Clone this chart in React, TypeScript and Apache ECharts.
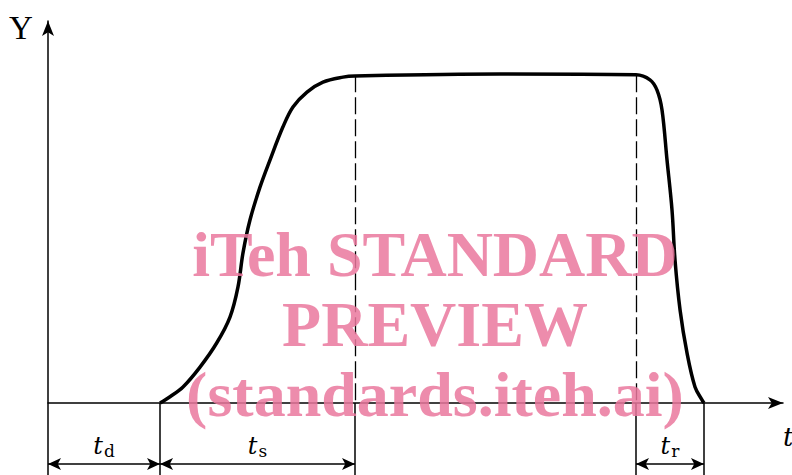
import React, { useEffect, useRef } from "react";
import * as echarts from "echarts";

// Response curve: [time, Y] in chart units (x 0..100, y -18.85..100)
const curveX = [15.24, 16.6, 18.37, 20.68, 22.95, 24.76, 25.85, 26.53, 27.48, 28.84, 30.2, 31.97, 33.33, 35.24, 37.41, 40.14, 41.77, 61.5, 80.0, 81.9, 82.86, 83.54, 84.22, 84.9, 85.31, 86.0, 86.94, 88.03, 88.98, 89.25];
const curveY = [0, 1.65, 4.2, 9.4, 15.7, 22.5, 30.4, 39.3, 47.9, 56.5, 63.6, 72.3, 77.5, 81.4, 84.0, 85.3, 85.6, 86.1, 85.9, 84.6, 81.9, 76.7, 63.6, 50.5, 37.4, 24.3, 13.1, 4.2, 0.8, 0];

// Time marks
const tStart = 0;
const tDelayEnd = 15.24;
const tSettle = 41.77;
const tRelease = 80.0;
const tEnd = 89.25;
const plateauY = 85.8;
const dimY = -16.0;
const yMin = -18.85;
const yMax = 100;
const xMax = 100;

const dimLabels = [
  { from: tStart, to: tDelayEnd, sub: "d" },
  { from: tDelayEnd, to: tSettle, sub: "s" },
  { from: tRelease, to: tEnd, sub: "r" },
];

const watermarkLines = ["iTeh STANDARD", "PREVIEW", "(standards.iteh.ai)"];

export default function App() {
  const ref = useRef<HTMLDivElement>(null);
  useEffect(() => {
    if (!ref.current) return;
    const chart = echarts.init(ref.current, null, { renderer: "svg" });
    const data = curveX.map((x, i) => [x, curveY[i]]);
    const dashed = { type: [17, 5] as any, color: "#000", width: 1.3 };
    const solid = { type: "solid", color: "#000", width: 1.5 };
    const vLines: any[] = [];
    [tSettle, tRelease].forEach((x) => {
      vLines.push([
        { coord: [x, plateauY], lineStyle: dashed, symbol: "none" },
        { coord: [x, 0], symbol: "none" },
      ]);
    });
    [tDelayEnd, tSettle, tRelease, tEnd].forEach((x) => {
      vLines.push([
        { coord: [x, 0], lineStyle: solid, symbol: "none" },
        { coord: [x, yMin], symbol: "none" },
      ]);
    });
    const dims = dimLabels.map((d) => [
      {
        coord: [d.from, dimY],
        lineStyle: { type: "solid", color: "#000", width: 1.5 },
        label: {
          show: true,
          position: "insideMiddleTop",
          distance: 5,
          formatter: "{t|t}{s|" + d.sub + "}",
          rich: {
            t: { fontFamily: "DejaVu Serif", fontStyle: "italic", fontSize: 24, color: "#000" },
            s: { fontFamily: "DejaVu Serif", fontSize: 17, color: "#000", padding: [10, 0, 0, 1] },
          },
        },
      },
      { coord: [d.to, dimY] },
    ]);
    chart.setOption({
      animation: false,
      grid: { left: 48, right: 9, top: 21, bottom: 0 },
      xAxis: {
        type: "value",
        min: 0,
        max: xMax,
        axisLine: {
          show: true,
          onZero: true,
          symbol: ["none", "arrow"],
          symbolSize: [9, 15],
          lineStyle: { color: "#000", width: 1.5 },
        },
        axisTick: { show: false },
        axisLabel: { show: false },
        splitLine: { show: false },
      },
      yAxis: {
        type: "value",
        min: yMin,
        max: yMax,
        axisLine: {
          show: true,
          onZero: false,
          symbol: ["none", "arrow"],
          symbolSize: [9, 15],
          lineStyle: { color: "#000", width: 1.5 },
        },
        axisTick: { show: false },
        axisLabel: { show: false },
        splitLine: { show: false },
      },
      series: [
        {
          type: "line",
          data,
          smooth: 0.35,
          symbol: "none",
          lineStyle: { color: "#000", width: 3.5 },
          z: 3,
          markLine: {
            silent: true,
            symbol: ["arrow", "arrow"],
            symbolSize: [9, 13],
            label: { show: false },
            data: [...vLines, ...dims],
          },
        },
      ],
      graphic: [
        {
          type: "text",
          left: 9,
          top: 11,
          style: { text: "Y", font: "33px 'Liberation Serif'", fill: "#000" },
        },
        {
          type: "text",
          left: 783,
          top: 424,
          style: { text: "t", font: "italic 26px 'DejaVu Serif'", fill: "#000" },
        },
        ...watermarkLines.map((t, i) => ({
          type: "text",
          x: 435,
          y: 254 + i * 70,
          z: 100,
          style: {
            text: t,
            font: "bold 64px 'Liberation Serif'",
            fill: "rgba(234,120,158,0.85)",
            textAlign: "center",
            textVerticalAlign: "middle",
          },
        })),
      ],
    });
    return () => chart.dispose();
  }, []);
  return <div ref={ref} style={{ width: 792, height: 475, position: "absolute", left: 0, top: 0 }} />;
}
